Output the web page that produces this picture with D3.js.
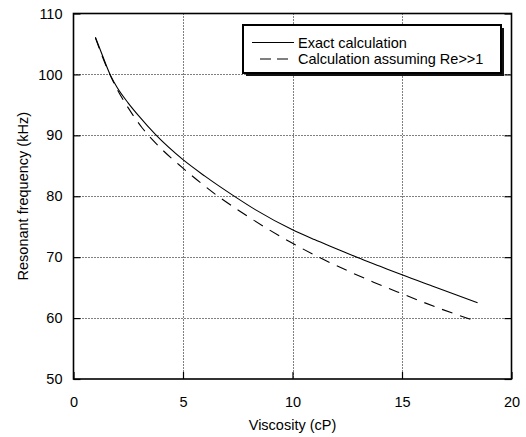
<!DOCTYPE html>
<html>
<head>
<meta charset="utf-8">
<script src="https://cdn.jsdelivr.net/npm/d3@7"></script>
<style>
  html, body { margin: 0; padding: 0; background: #fff; }
  svg { display: block; font-family: "Liberation Sans", Arial, sans-serif; }
</style>
</head>
<body>
<svg id="chart" width="526" height="437"></svg>
<script>
// ---- Data ----
const viscosityExact = [1.0, 1.3, 1.68, 2.0, 2.5, 3.0, 3.75, 5.0, 6.0, 7.3, 8.3, 10.0, 11.0, 12.0, 13.0, 14.0, 15.0, 16.5, 18.45];
const freqExact      = [106.1, 103.3, 99.9, 97.8, 95.3, 93.1, 90.1, 86.0, 83.3, 80.1, 77.8, 74.5, 72.9, 71.4, 69.9, 68.5, 67.1, 65.1, 62.5];
const viscosityApprox = [1.0, 1.5, 2.0, 2.5, 3.14, 3.98, 4.97, 5.81, 6.6, 7.49, 8.7, 9.94, 11.2, 12.5, 13.7, 15.0, 16.7, 18.45];
const freqApprox      = [106.0, 101.3, 97.5, 94.5, 91.2, 87.9, 84.7, 82.2, 80.0, 77.8, 75.0, 72.4, 70.0, 67.8, 65.9, 64.0, 61.6, 59.4];
const xTicks = [0, 5, 10, 15, 20];
const yTicks = [50, 60, 70, 80, 90, 100, 110];
const seriesNames = ["Exact calculation", "Calculation assuming Re>>1"];
const xLabel = "Viscosity (cP)";
const yLabel = "Resonant frequency (kHz)";

// ---- Layout ----
const svg = d3.select("#chart");
const pL = 73.5, pR = 511.5, pT = 13.5, pB = 379;
const x = d3.scaleLinear().domain([0, 20]).range([pL, pR]);
const y = d3.scaleLinear().domain([50, 110]).range([pB, pT]);
const fontSize = "14.5px";

// grid
const grid = svg.append("g").attr("stroke", "#000").attr("stroke-width", 1).attr("stroke-dasharray", "1,2");
grid.selectAll("line.gx").data(xTicks.slice(1, -1)).enter().append("line")
  .attr("x1", d => Math.round(x(d)) + 0.5).attr("x2", d => Math.round(x(d)) + 0.5)
  .attr("y1", pT).attr("y2", pB);
grid.selectAll("line.gy").data(yTicks.slice(1, -1)).enter().append("line")
  .attr("y1", d => Math.round(y(d)) + 0.5).attr("y2", d => Math.round(y(d)) + 0.5)
  .attr("x1", pL).attr("x2", pR);

// axes
const axB = svg.append("g").attr("transform", `translate(0,${pB})`)
  .call(d3.axisBottom(x).tickValues(xTicks).tickSize(-7).tickPadding(18).tickFormat(d3.format("d")));
const axL = svg.append("g").attr("transform", `translate(${pL},0)`)
  .call(d3.axisLeft(y).tickValues(yTicks).tickSize(-7).tickPadding(11).tickFormat(d3.format("d")));
const axR = svg.append("g").attr("transform", `translate(${pR},0)`)
  .call(d3.axisRight(y).tickValues(yTicks).tickSize(-7).tickFormat(""));
[axB, axL, axR].forEach(g => {
  g.select(".domain").remove();
  g.selectAll(".tick line").attr("stroke", "#000").attr("stroke-width", 1.2);
  g.selectAll(".tick text").attr("font-size", fontSize).attr("font-family", "Liberation Sans, Arial, sans-serif").attr("fill", "#000");
});

// frame
svg.append("rect").attr("x", pL).attr("y", pT).attr("width", pR - pL).attr("height", pB - pT)
  .attr("fill", "none").attr("stroke", "#000").attr("stroke-width", 1.6);

// curves
const line = d3.line().x(d => x(d[0])).y(d => y(d[1])).curve(d3.curveMonotoneX);
svg.append("path").datum(d3.zip(viscosityExact, freqExact))
  .attr("d", line).attr("fill", "none").attr("stroke", "#000").attr("stroke-width", 1.1);
svg.append("path").datum(d3.zip(viscosityApprox, freqApprox))
  .attr("d", line).attr("fill", "none").attr("stroke", "#000").attr("stroke-width", 1.1)
  .attr("stroke-dasharray", "11,8");

// legend
const lg = svg.append("g");
lg.append("rect").attr("x", 246).attr("y", 28).attr("width", 258).attr("height", 48).attr("fill", "#111");
lg.append("rect").attr("x", 243).attr("y", 25).attr("width", 258).attr("height", 48)
  .attr("fill", "#fff").attr("stroke", "#000").attr("stroke-width", 2);
lg.append("line").attr("x1", 252).attr("x2", 294).attr("y1", 42.5).attr("y2", 42.5)
  .attr("stroke", "#000").attr("stroke-width", 1.1);
lg.append("line").attr("x1", 260).attr("x2", 294).attr("y1", 59).attr("y2", 59)
  .attr("stroke", "#000").attr("stroke-width", 1.1).attr("stroke-dasharray", "11,6");
lg.selectAll("text").data(seriesNames).enter().append("text")
  .attr("x", 298).attr("y", (d, i) => 47.5 + i * 16.7)
  .attr("font-size", fontSize).attr("fill", "#000").text(d => d);

// axis titles
svg.append("text").attr("x", (pL + pR) / 2).attr("y", 430).attr("text-anchor", "middle")
  .attr("font-size", fontSize).text(xLabel);
svg.append("text").attr("transform", `translate(27.5,${(pT + pB) / 2}) rotate(-90)`)
  .attr("text-anchor", "middle").attr("font-size", fontSize).text(yLabel);
</script>
</body>
</html>
